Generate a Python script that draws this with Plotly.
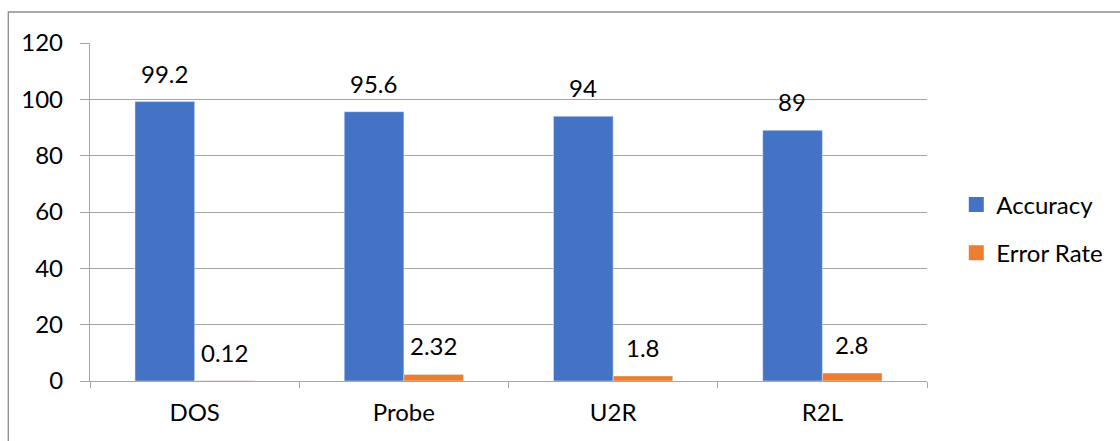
import plotly.graph_objects as go

categories = ["DOS", "Probe", "U2R", "R2L"]
accuracy = [99.2, 95.6, 94, 89]
error_rate = [0.12, 2.32, 1.8, 2.8]
y_ticks = [0, 20, 40, 60, 80, 100, 120]

FONT = "Lato, Calibri, Carlito, sans-serif"
GRID = "#a6a6a6"
BLUE = "#4472C4"
ORANGE = "#ED7D31"

fig = go.Figure()
fig.add_trace(go.Bar(name="Accuracy", x=categories, y=accuracy,
                     marker_color=BLUE, showlegend=False))
fig.add_trace(go.Bar(name="Error Rate", x=categories, y=error_rate,
                     marker_color=ORANGE, showlegend=False))

# square legend keys
for name, col, grp in (("Accuracy", BLUE, "a"), ("Error Rate", ORANGE, "b")):
    fig.add_trace(go.Scatter(x=[None], y=[None], mode="markers", name=name,
                             legendgroup=grp,
                             marker=dict(symbol="square", size=15, color=col)))

# value labels above each bar
for vals, shift in ((accuracy, -30), (error_rate, 30)):
    for c, v in zip(categories, vals):
        fig.add_annotation(x=c, y=v, text=f"{v:g}", showarrow=False,
                           xshift=shift, yshift=12, yanchor="bottom",
                           font=dict(family=FONT, size=24, color="#000"))

fig.update_layout(
    width=1120, height=441,
    margin=dict(l=90, r=190, t=43, b=60),
    paper_bgcolor="white", plot_bgcolor="white",
    barmode="group", bargap=0.43, bargroupgap=0,
    font=dict(family=FONT, size=24, color="#000"),
    showlegend=True,
    legend=dict(x=1.035, y=0.45, xanchor="left", yanchor="middle",
                tracegroupgap=14, font=dict(size=24), itemwidth=30),
    shapes=[dict(type="rect", xref="paper", yref="paper",
                 x0=(8 - 90) / 840, x1=1.5, y0=-0.5, y1=(381 - 12) / 338,
                 line=dict(color="#8c8c8c", width=1.3), layer="below")],
)
fig.update_yaxes(range=[0, 120], tickvals=y_ticks, showgrid=True,
                 gridcolor=GRID, gridwidth=1.3, zeroline=False,
                 showline=True, linecolor=GRID, linewidth=1.3,
                 ticks="outside", ticklen=9, tickcolor=GRID, tickwidth=1.3,
                 ticklabelstandoff=12)
fig.update_xaxes(showline=True, linecolor=GRID, linewidth=1.3,
                 ticks="outside", tickson="boundaries", ticklen=6,
                 tickcolor=GRID, tickwidth=1.3, ticklabelstandoff=10)

fig.write_html("out.html")
